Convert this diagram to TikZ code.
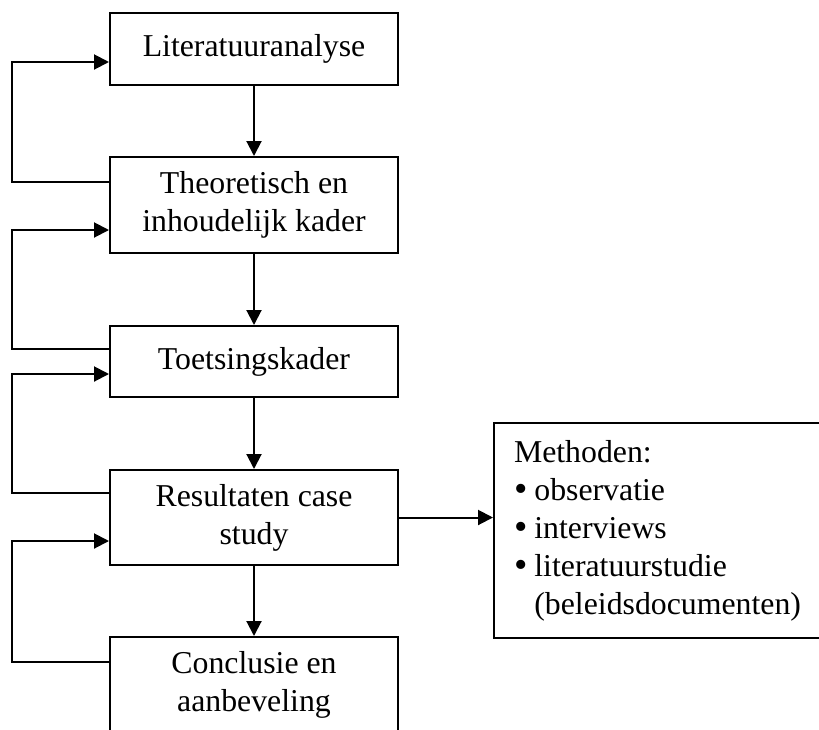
\documentclass[tikz,border=0pt]{standalone}
\usepackage{fontspec}
\usepackage{graphicx}
\setmainfont{Liberation Serif}
\usetikzlibrary{arrows.meta}
\newcommand{\itembullet}{\raisebox{-0.04em}{\scalebox{1.2}{\textbullet}}\hspace{0.22em}}
\begin{document}
\begin{tikzpicture}[x=1pt,y=1pt,
  stage/.style={draw, line width=2pt, minimum width=288pt, inner sep=0pt,
    align=center, font=\fontsize{31.8}{38}\selectfont},
  flow/.style={line width=2pt, -{Triangle[length=15pt,width=15pt]}},
  listbox/.style={draw, line width=2pt, anchor=north west, text width=300pt,
    inner xsep=20pt, inner ysep=0pt, minimum height=215pt, align=left,
    font=\fontsize{31.8}{38}\selectfont}]
\useasboundingbox (0,0) rectangle (819,-729);
\clip (0,0) rectangle (819,-729);

% main chain of stages
\node[stage, minimum height=72pt] (lit)  at (254,-49)    {Literatuuranalyse};
\node[stage, minimum height=96pt] (kad)  at (254,-205)   {Theoretisch en\\inhoudelijk kader};
\node[stage, minimum height=71pt] (toe)  at (254,-361.5) {Toetsingskader};
\node[stage, minimum height=95pt] (res)  at (254,-517.5) {Resultaten case\\study};
\node[stage, minimum height=96pt] (con)  at (254,-685)   {Conclusie en\\aanbeveling};

% methods box
\node[listbox] (met) at (493,-422) {Methoden:\\
  \itembullet observatie\\
  \itembullet interviews\\
  \itembullet literatuurstudie\\
  \hphantom{\itembullet}(beleidsdocumenten)};

% downward flow
\draw[flow] (lit) -- (kad);
\draw[flow] (kad) -- (toe);
\draw[flow] (toe) -- (res);
\draw[flow] (res) -- (con);
\draw[flow] (res.east) -- (res.east -| met.west);

% feedback loops on the left
\draw[flow] ([yshift=23pt]kad.west)   -- ++(-97,0) |- ([yshift=-13pt]lit.west);
\draw[flow] ([yshift=12.5pt]toe.west) -- ++(-97,0) |- ([yshift=-25pt]kad.west);
\draw[flow] ([yshift=24.5pt]res.west) -- ++(-97,0) |- ([yshift=-12.5pt]toe.west);
\draw[flow] ([yshift=23pt]con.west)   -- ++(-97,0) |- ([yshift=-23.5pt]res.west);
\end{tikzpicture}
\end{document}
